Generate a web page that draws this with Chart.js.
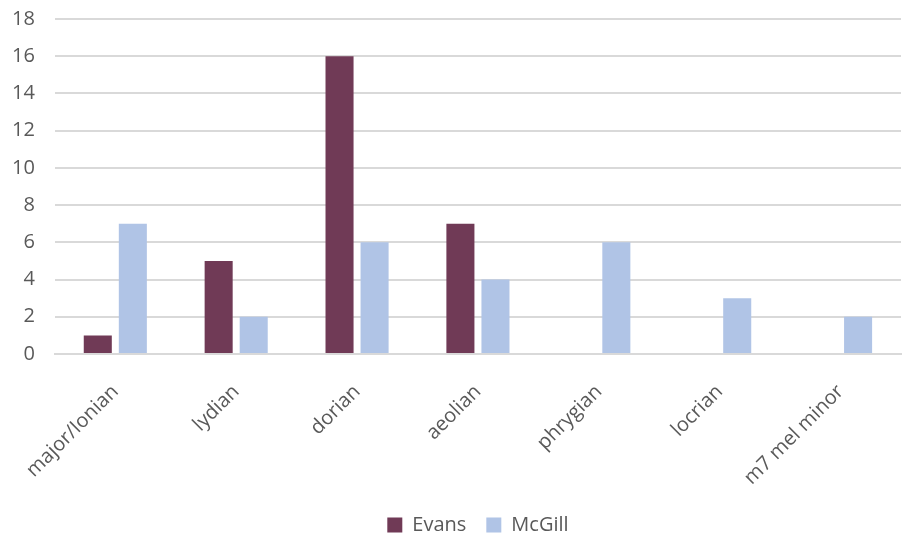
<!DOCTYPE html>
<html>
<head>
<meta charset="utf-8">
<script src="https://cdn.jsdelivr.net/npm/chart.js@4"></script>
<style>
  html, body { margin: 0; padding: 0; background: #fff; overflow: hidden; }
  #wrap { width: 911px; height: 560px; margin-top: -13px; }
</style>
</head>
<body>
<div id="wrap"><canvas id="modesChart"></canvas></div>
<script>
// Mode usage counts per player
var modes = ['major/Ionian', 'lydian', 'dorian', 'aeolian', 'phrygian', 'locrian', 'm7 mel minor'];
var evans = [1, 5, 16, 7, 0, 0, 0];
var mcgill = [7, 2, 6, 4, 6, 3, 2];
var yTicks = [0, 2, 4, 6, 8, 10, 12, 14, 16, 18];

document.addEventListener('DOMContentLoaded', function() {
    var textColor = '#595959';
    var fontFamily = "'Open Sans', 'Liberation Sans', sans-serif";
    var ctx = document.getElementById('modesChart').getContext('2d');
    var modesChart = new Chart(ctx, {
        type: 'bar',
        data: {
            labels: modes,
            datasets: [{
                label: 'Evans',
                data: evans,
                backgroundColor: '#703A56',
                barPercentage: 0.8,
                categoryPercentage: 0.58
            }, {
                label: 'McGill',
                data: mcgill,
                backgroundColor: '#B0C4E6',
                barPercentage: 0.8,
                categoryPercentage: 0.58
            }]
        },
        options: {
            responsive: true,
            maintainAspectRatio: false,
            animation: false,
            layout: { padding: { left: -8, right: 10, top: 0, bottom: 2 } },
            plugins: {
                legend: {
                    position: 'bottom',
                    fullSize: false,
                    labels: {
                        color: textColor,
                        font: { family: fontFamily, size: 20 },
                        boxWidth: 15,
                        boxHeight: 15,
                        padding: 20
                    }
                },
                tooltip: { enabled: false }
            },
            scales: {
                x: {
                    // fixed axis band so the rotated labels sit close to the legend
                    afterFit: function(axis) { axis.height = 141; },
                    grid: { display: false, drawTicks: false },
                    border: { display: true, color: '#D9D9D9', width: 2 },
                    ticks: {
                        color: textColor,
                        font: { family: fontFamily, size: 20 },
                        minRotation: 45,
                        maxRotation: 45,
                        padding: 26
                    }
                },
                y: {
                    min: 0,
                    max: 18,
                    afterBuildTicks: function(axis) {
                        axis.ticks = yTicks.map(function(v) { return { value: v }; });
                    },
                    grid: { color: '#D9D9D9', lineWidth: 2, drawTicks: false },
                    border: { display: false },
                    ticks: {
                        color: textColor,
                        font: { family: fontFamily, size: 20 },
                        padding: 20
                    }
                }
            }
        }
    });
});
</script>
</body>
</html>
